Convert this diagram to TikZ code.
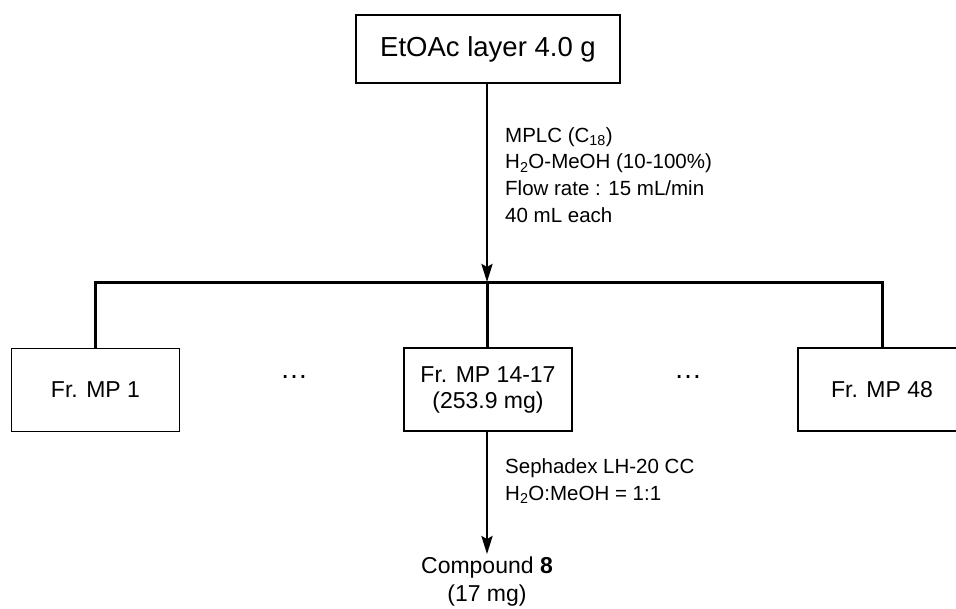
\documentclass[tikz,border=0pt]{standalone}
\usepackage{fontspec}
\setmainfont{Liberation Sans}
\usetikzlibrary{arrows.meta}
\begin{document}
\begin{tikzpicture}[x=1pt,y=-1pt,
  boxnode/.style={draw=black,line width=1.6pt,minimum width=168pt,minimum height=83pt,inner sep=0pt,align=center,font=\fontsize{23}{26}\selectfont},
  topbox/.style={draw=black,line width=1.6pt,minimum width=264pt,minimum height=68pt,inner sep=0pt,font=\fontsize{27.5}{32}\selectfont},
  conn/.style={line width=3pt,line join=miter},
  arrowline/.style={line width=2.8pt,-{Stealth[length=18pt,width=11pt,inset=3pt]}},
  cond/.style={anchor=west,align=left,inner sep=0pt},
  dotsnode/.style={inner sep=0pt,font=\fontsize{28}{30}\selectfont}]
\useasboundingbox (0,0) rectangle (956,608);
\clip (0,0) rectangle (956,608);
\node[topbox] (top) at (488,49) {EtOAc layer 4.0 g};
\coordinate (J) at (487,282);
\node[boxnode] (b1) at (95.5,390) {Fr. MP 1};
\node[boxnode] (b2) at (488,389.5) {Fr. MP 14-17\\(253.9 mg)};
\node[boxnode] (b3) at (882,389.5) {Fr. MP 48};
\node[dotsnode] (d1) at (294,377) {…};
\node[dotsnode] (d2) at (688,377) {…};
\node[cond,font=\fontsize{20.5}{26.7}\selectfont] (l1) at (505,175)
  {MPLC (C\textsubscript{18})\\H\textsubscript{2}O-MeOH (10-100\%)\\Flow rate : 15 mL/min\\40 mL each};
\node[cond,font=\fontsize{20.5}{27}\selectfont] (l2) at (505,481)
  {Sephadex LH-20 CC\\H\textsubscript{2}O:MeOH = 1:1};
\node[align=center,inner sep=3pt,font=\fontsize{23}{28}\selectfont] (c8) at (487,582)
  {Compound \textbf{8}\\(17 mg)};
\draw[arrowline] (top.south -| J) -- (J);
\draw[conn] (b1.north) |- (J) -| (b3.north);
\draw[conn] (J) -- (b2.north -| J);
\draw[arrowline] (b2.south -| J) -- (c8.north -| J);
\end{tikzpicture}
\end{document}
